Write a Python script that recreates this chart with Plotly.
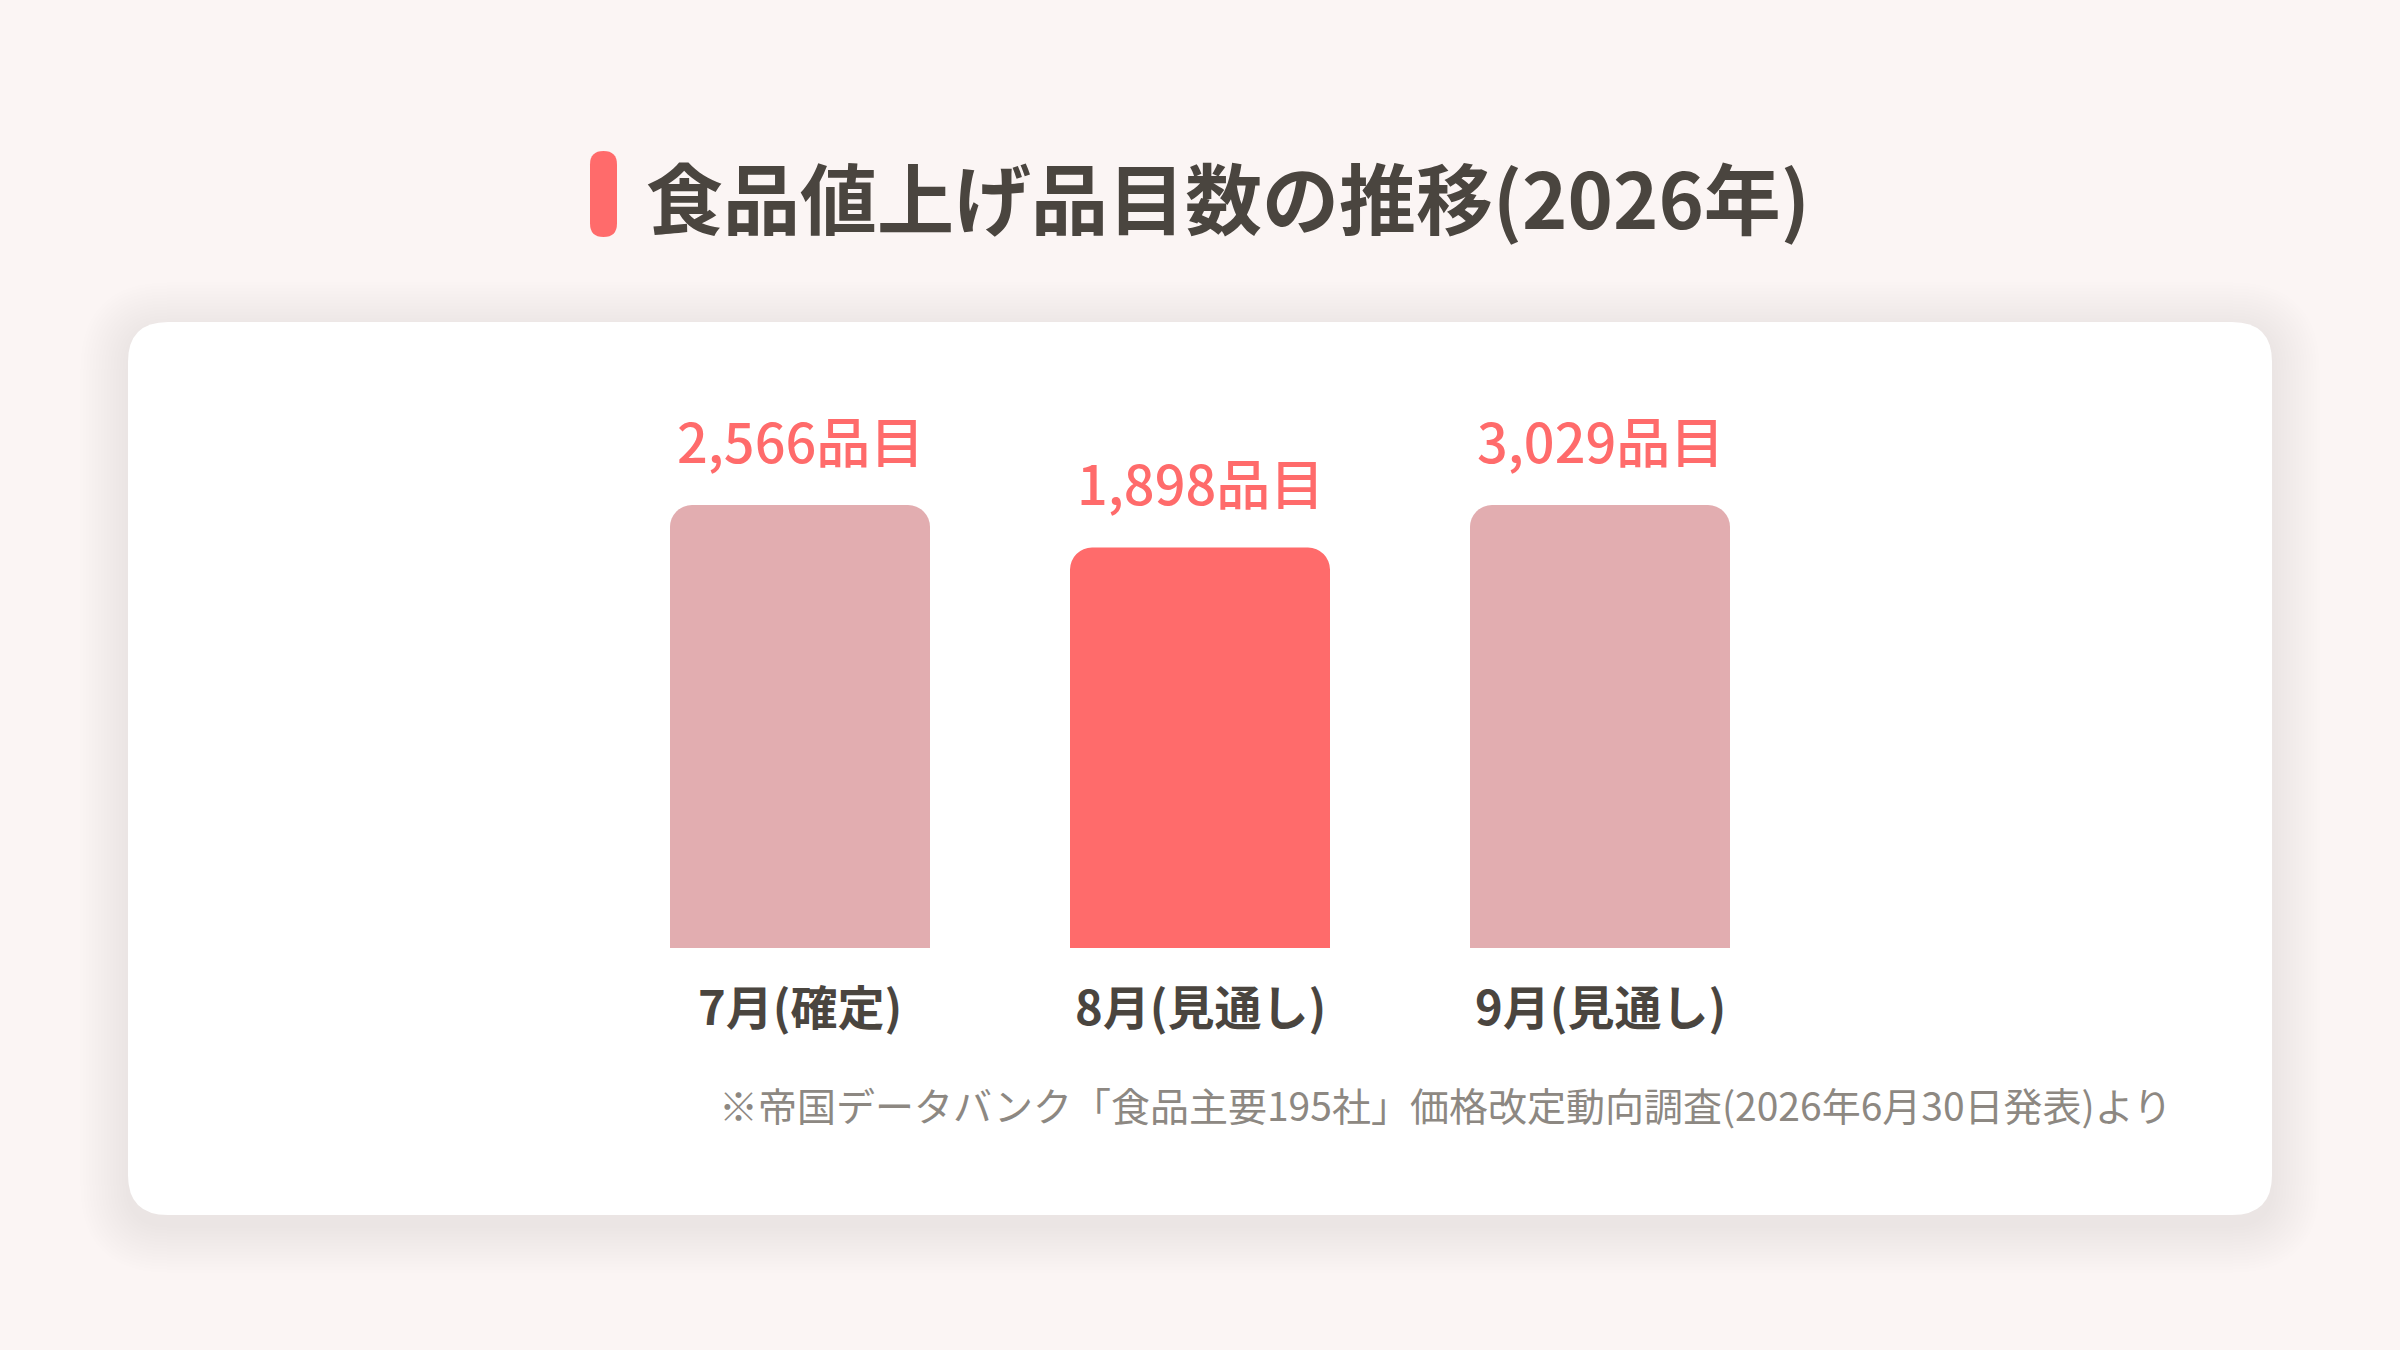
import numpy as np
import plotly.graph_objects as go

# ---- data ----
categories = ["7月(確定)", "8月(見通し)", "9月(見通し)"]
values = [2566, 1898, 3029]
highlight = [False, True, False]
title_text = "食品値上げ品目数の推移(2026年)"
source_text = "※帝国データバンク「食品主要195社」価格改定動向調査(2026年6月30日発表)より"
unit = "品目"

# ---- layout constants ----
W, H = 2400, 1350
ML, MR, MT, MB = 600, 600, 400, 402
PW, PH = W - ML - MR, H - MT - MB
DISPLAY_CAP = 2100          # bars are capped at this height in the original design
BAR_CAP_PX = 443            # pixel height of a capped bar
y_max = DISPLAY_CAP * PH / BAR_CAP_PX

BG = "#fbf5f4"
PALE = "#e2adb0"
HOT = "#ff6b6b"
DARK = "#4a453f"
GREY = "#8d8882"
FONT = "Noto Sans CJK JP"

display_vals = np.minimum(np.array(values), DISPLAY_CAP)
colors = [HOT if h else PALE for h in highlight]


def px_x(px):
    return (px - ML) / PW


def px_y(py):
    return (H - MB - py) / PH


def rounded_rect(x0, y0, x1, y1, r):
    """Rounded rectangle path in paper coords from pixel coords."""
    X0, X1 = px_x(x0), px_x(x1)
    Y0, Y1 = px_y(y0), px_y(y1)  # Y0 top (larger), Y1 bottom
    rx, ry = r / PW, r / PH
    return (f"M {X0+rx},{Y0} L {X1-rx},{Y0} Q {X1},{Y0} {X1},{Y0-ry} "
            f"L {X1},{Y1+ry} Q {X1},{Y1} {X1-rx},{Y1} "
            f"L {X0+rx},{Y1} Q {X0},{Y1} {X0},{Y1+ry} "
            f"L {X0},{Y0-ry} Q {X0},{Y0} {X0+rx},{Y0} Z")


fig = go.Figure()
fig.add_trace(go.Bar(
    x=categories, y=display_vals, width=0.65,
    marker=dict(color=colors, cornerradius=22, line=dict(width=0)),
    hoverinfo="skip",
))

shapes = []
# soft shadow of card
cx0, cy0, cx1, cy1 = 128, 322, 2272, 1215
for i in range(16):
    s = 3 * (i + 1)
    shapes.append(dict(
        type="path", xref="paper", yref="paper", layer="below",
        path=rounded_rect(cx0 - s, cy0 - s + 8, cx1 + s, cy1 + s + 10, 40 + s),
        fillcolor="rgba(110,90,90,0.0035)", line=dict(width=0)))
# card
shapes.append(dict(type="path", xref="paper", yref="paper", layer="below",
                   path=rounded_rect(cx0, cy0, cx1, cy1, 40),
                   fillcolor="#ffffff", line=dict(width=0)))
# title pill
shapes.append(dict(type="path", xref="paper", yref="paper", layer="above",
                   path=rounded_rect(590, 151, 617, 237, 13.5),
                   fillcolor=HOT, line=dict(width=0)))

annotations = []
annotations.append(dict(
    text=title_text, xref="paper", yref="paper", x=px_x(644), y=px_y(196),
    xanchor="left", yanchor="middle", showarrow=False,
    font=dict(family=FONT, size=77, color=DARK, weight=700)))

for cat, v, dv in zip(categories, values, display_vals):
    annotations.append(dict(
        text=f"{v:,}{unit}", x=cat, y=dv, xref="x", yref="y",
        xanchor="center", yanchor="middle", yshift=66, showarrow=False,
        font=dict(family=FONT, size=54, color=HOT, weight=500)))
    annotations.append(dict(
        text=cat, x=cat, y=0, xref="x", yref="paper",
        xanchor="center", yanchor="middle", yshift=-56, showarrow=False,
        font=dict(family=FONT, size=47, color=DARK, weight=700)))

annotations.append(dict(
    text=source_text, xref="paper", yref="paper", x=px_x(2174), y=px_y(1104),
    xanchor="right", yanchor="middle", showarrow=False,
    font=dict(family=FONT, size=39, color=GREY, weight=400)))

fig.update_layout(
    width=W, height=H,
    margin=dict(l=ML, r=MR, t=MT, b=MB, pad=0),
    paper_bgcolor=BG, plot_bgcolor="rgba(0,0,0,0)",
    showlegend=False,
    shapes=shapes, annotations=annotations,
    xaxis=dict(range=[-0.5, 2.5], showticklabels=False, showgrid=False,
               zeroline=False, showline=False, ticks=""),
    yaxis=dict(range=[0, y_max], showticklabels=False, showgrid=False,
               zeroline=False, showline=False, ticks=""),
    font=dict(family=FONT),
)

fig.write_html("out.html", config={"displayModeBar": False})
